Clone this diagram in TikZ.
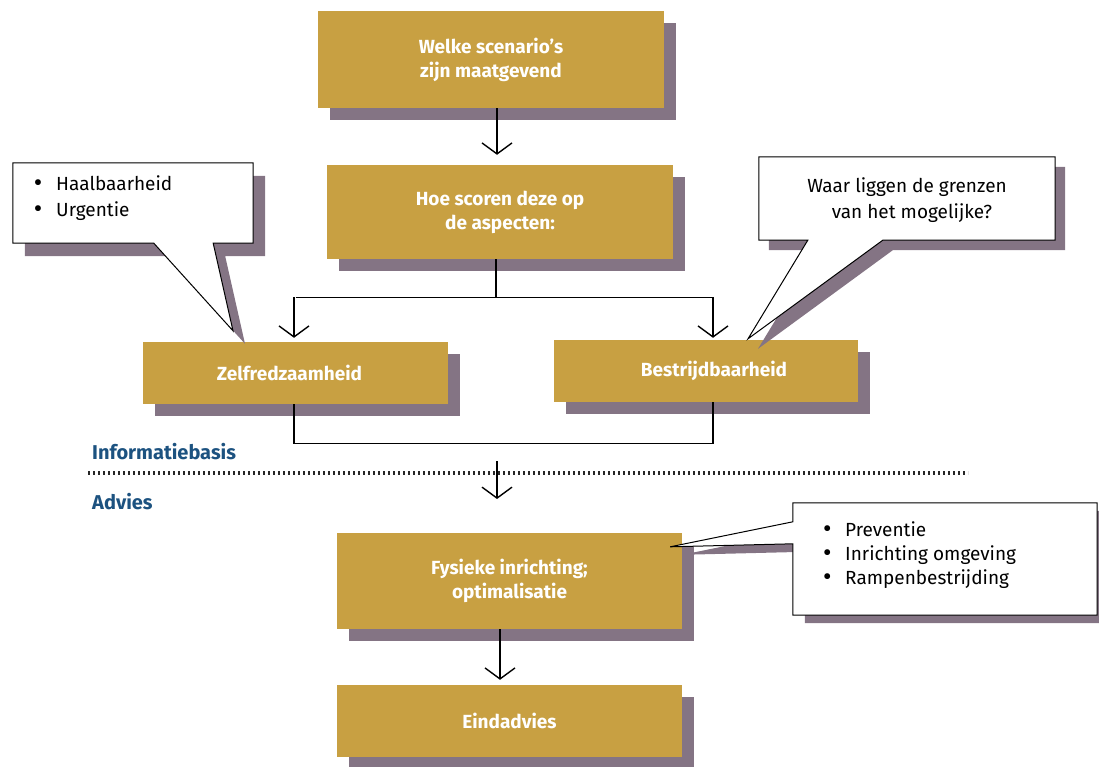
\documentclass[tikz,border=0pt]{standalone}
\usepackage{fontspec}
\setmainfont{Fira Sans}
\usetikzlibrary{arrows.meta,shadows}
\definecolor{gold}{RGB}{200,160,66}
\definecolor{shadowc}{RGB}{132,116,132}
\definecolor{labelblue}{RGB}{28,82,128}
\newcommand{\bigbul}{\makebox[10pt][c]{\fontsize{26}{0}\selectfont\raisebox{-1.5pt}{\textbullet}}\hspace{13pt}}
\begin{document}
\begin{tikzpicture}[x=1pt,y=-1pt,
  goldbox/.style={fill=gold, text=white, align=center, inner sep=0pt,
    font=\fontsize{19}{24}\selectfont\bfseries,
    general shadow={shadow xshift=12pt, shadow yshift=-12pt, fill=shadowc}},
  holder/.style={inner sep=0pt},
  ctext/.style={font=\fontsize{19}{26}\selectfont, align=left, inner sep=0pt},
  bluelabel/.style={font=\fontsize{20}{20}\selectfont\bfseries, text=labelblue, inner sep=0pt},
  conn/.style={line width=1.3pt, black},
  arr/.style={conn, -{Straight Barb[length=11pt,width=30pt,line width=1.4pt]}},
  dotline/.style={line width=3.6pt, dash pattern=on 2.4pt off 2.6pt, black!85},
  calloutfill/.style={fill=white, draw=black, line width=1pt, line join=miter},
]
\useasboundingbox (0,0) rectangle (1099,767);

% gold boxes
\node[goldbox, minimum width=346pt, minimum height=97pt] (b1) at (491,59.5) {Welke scenario's\\zijn maatgevend};
\node[goldbox, minimum width=346pt, minimum height=94pt] (b2) at (500,212) {Hoe scoren deze op\\de aspecten:};
\node[goldbox, minimum width=305pt, minimum height=62pt] (zelf) at (295.5,373) {\hspace*{-12pt}Zelfredzaamheid};
\node[goldbox, minimum width=304pt, minimum height=62pt] (bestr) at (706,371) {\hspace*{16pt}Bestrijdbaarheid};
\node[goldbox, minimum width=345pt, minimum height=96pt] (fys) at (509.5,581) {Fysieke inrichting;\\optimalisatie};
\node[goldbox, minimum width=345pt, minimum height=72pt] (eind) at (509.5,721) {Eindadvies};

% connectors
\draw[arr] ([xshift=6pt]b1.south) -- ([xshift=-3pt,yshift=10pt]b2.north);
\draw[conn] ([xshift=-4pt]b2.south) -- ++(0,38) coordinate (j);
\draw[conn] (j -| zelf.north) -- ([xshift=7pt]j -| bestr.north);
\draw[arr] ([xshift=-1.5pt]j -| zelf.north) -- ([xshift=-1.5pt,yshift=4pt]zelf.north);
\draw[arr] ([xshift=7pt]j -| bestr.north) -- ([xshift=7pt,yshift=2pt]bestr.north);
\draw[conn] ([xshift=-1.5pt]zelf.south) |- ([xshift=7pt,yshift=-41pt]bestr.south) -- ([xshift=7pt]bestr.south);
\coordinate (ms) at (497,461);
\coordinate (me) at (497,499);
\draw[arr] (ms) -- (me);
\draw[arr] ([xshift=-9.5pt]fys.south) -- ([xshift=-9.5pt,yshift=5pt]eind.north);

% dotted separator and labels
\coordinate (dl) at (88,473);
\coordinate (dr) at (968,473);
\draw[dotline] (dl) -- (dr);
\node[bluelabel, anchor=west] (ib) at (92,452) {Informatiebasis};
\node[bluelabel, anchor=west] (adv) at (92,502) {Advies};

% callout holders
\node[holder, minimum width=240pt, minimum height=80pt] (hl) at (133,203) {};
\node[holder, minimum width=296pt, minimum height=83pt] (wg) at (907,198.5) {};
\node[holder, minimum width=304pt, minimum height=112pt] (pv) at (945,559) {};
\coordinate (tipL) at ([xshift=-62.5pt,yshift=11pt]zelf.north);
\coordinate (tipR) at ([xshift=42pt,yshift=1pt]bestr.north);
\coordinate (tipP) at ([xshift=-12pt,yshift=-14pt]fys.north east);

\tikzset{
  pathL/.style={insert path={(hl.north west) -- (hl.north east) -- (hl.south east) -- ([xshift=-40pt]hl.south east) -- (tipL) -- ([xshift=141pt]hl.south west) -- (hl.south west) -- cycle}},
  pathR/.style={insert path={(wg.north west) -- (wg.north east) -- (wg.south east) -- ([xshift=124pt]wg.south west) -- (tipR) -- ([xshift=49pt]wg.south west) -- (wg.south west) -- cycle}},
  pathP/.style={insert path={(pv.north west) -- (pv.north east) -- (pv.south east) -- (pv.south west) -- ([yshift=-41pt]pv.north west) -- (tipP) -- ([yshift=-19pt]pv.north west) -- cycle}},
}
\fill[shadowc, transform canvas={shift={(12pt,-13pt)}}, pathL];
\fill[shadowc, transform canvas={shift={(10pt,-10pt)}}, pathR];
\fill[shadowc, transform canvas={shift={(12pt,-8pt)}}, pathP];
\path[calloutfill, pathL];
\path[calloutfill, pathR];
\path[calloutfill, pathP];

% callout texts
\node[ctext, anchor=north west] (hlt) at (33,175) {\bigbul Haalbaarheid\\\bigbul Urgentie};
\node[ctext, align=center] (wgt) at (907,200) {Waar liggen de grenzen\\\hspace*{10pt}van het mogelijke?};
\node[ctext, anchor=north west, font=\fontsize{19}{24}\selectfont] (pvt) at (822,521) {\bigbul Preventie\\\bigbul Inrichting omgeving\\\bigbul Rampenbestrijding};
\end{tikzpicture}
\end{document}
